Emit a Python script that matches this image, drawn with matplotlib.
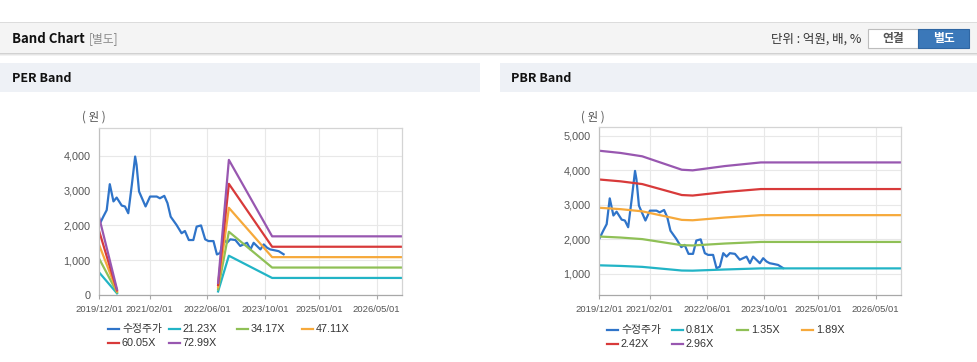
import numpy as np
import pandas as pd
import matplotlib
matplotlib.use('Agg')
import matplotlib.pyplot as plt
from matplotlib.patches import Rectangle
from matplotlib.lines import Line2D
from matplotlib.ticker import FuncFormatter

plt.rcParams['font.family'] = ['Liberation Sans', 'Noto Sans CJK KR']
plt.rcParams['axes.unicode_minus'] = False

W, H = 978, 362

# ---------------- data ----------------
price_dates = ['2019-12-01', '2019-12-10', '2020-01-06', '2020-02-04', '2020-03-01', '2020-04-01',
               '2020-04-28', '2020-06-10', '2020-07-07', '2020-08-04', '2020-09-03', '2020-10-01',
               '2020-10-13', '2020-11-03', '2020-12-28', '2021-02-04', '2021-04-01', '2021-04-28',
               '2021-06-04', '2021-07-01', '2021-07-28', '2021-09-15', '2021-10-28', '2021-11-25',
               '2021-12-28', '2022-02-04', '2022-03-04', '2022-04-10', '2022-05-15', '2022-06-12',
               '2022-07-24', '2022-08-22', '2022-09-19', '2022-10-18', '2022-11-15', '2022-12-13',
               '2023-01-25', '2023-03-07', '2023-04-04', '2023-05-03', '2023-06-01', '2023-06-28',
               '2023-07-25', '2023-08-24', '2023-09-21', '2023-10-19', '2023-11-15', '2023-12-15',
               '2024-01-25', '2024-03-07']
price_vals = [2000, 2060, 2250, 2440, 3185, 2690,
              2800, 2570, 2545, 2350, 3165, 3980,
              3740, 2975, 2545, 2830, 2830, 2780,
              2850, 2640, 2250, 2015, 1775, 1840,
              1580, 1580, 1965, 2000, 1600, 1550,
              1550, 1165, 1210, 1600, 1500, 1600,
              1580, 1410, 1455, 1500, 1310, 1500,
              1410, 1310, 1455, 1360, 1310, 1290,
              1260, 1170]

# PER band (NaN = no band, line is broken)
per_dates = ['2019-12-01', '2020-05-01', '2021-06-01', '2022-09-01', '2022-12-01', '2023-12-01', '2026-12-01']
per_21 = [654, 47, np.nan, 102, 1129, 490, 490]
per_34 = [1052, 75, np.nan, 164, 1818, 789, 789]
per_47 = [1451, 104, np.nan, 226, 2506, 1088, 1088]
per_60 = [1850, 132, np.nan, 288, 3195, 1387, 1387]
per_73 = [2248, 161, np.nan, 350, 3883, 1686, 1686]
per_labels = ['21.23X', '34.17X', '47.11X', '60.05X', '72.99X']

# PBR band
pbr_dates = ['2019-12-01', '2020-06-01', '2020-12-01', '2021-11-01', '2022-02-01', '2022-11-01', '2023-09-01', '2026-12-01']
pbr_081 = [1249, 1231, 1204, 1098, 1094, 1128, 1160, 1160]
pbr_135 = [2082, 2052, 2007, 1831, 1823, 1879, 1925, 1925]
pbr_189 = [2914, 2873, 2810, 2563, 2552, 2631, 2700, 2700]
pbr_242 = [3732, 3678, 3599, 3282, 3267, 3369, 3455, 3455]
pbr_296 = [4564, 4499, 4402, 4014, 3996, 4120, 4225, 4225]
pbr_labels = ['0.81X', '1.35X', '1.89X', '2.42X', '2.96X']

x_ticks = ['2019/12/01', '2021/02/01', '2022/06/01', '2023/10/01', '2025/01/01', '2026/05/01']

price_color = '#2f74c9'
band_colors = ['#22b4c6', '#8fc056', '#f6a93b', '#d83a3a', '#9857b0']


def px_rect(x0, y0, x1, y1):
    return [x0 / W, 1 - y1 / H, (x1 - x0) / W, (y1 - y0) / H]


def fx(x):
    return x / W


def fy(y):
    return 1 - y / H


def setup_axes(ax, ylim, yticks):
    ax.set_xlim(pd.Timestamp('2019-12-01'), pd.Timestamp('2026-12-01'))
    ax.set_ylim(*ylim)
    ax.set_yticks(yticks)
    ax.yaxis.set_major_formatter(FuncFormatter(lambda v, p: f'{v:,.0f}'))
    ax.set_xticks([pd.Timestamp(d.replace('/', '-')) for d in x_ticks])
    ax.set_xticklabels(x_ticks)
    ax.grid(color='#e8e8e8', lw=0.8)
    ax.set_axisbelow(True)
    for s in ax.spines.values():
        s.set_color('#d4d4d4')
        s.set_linewidth(0.9)
    ax.spines['bottom'].set_color('#a8a8a8')
    ax.spines['left'].set_color('#c0c0c0')
    ax.tick_params(axis='x', length=3, color='#a8a8a8', labelsize=6.8, labelcolor='#555555', pad=4)
    ax.tick_params(axis='y', length=0, labelsize=7.8, labelcolor='#555555', pad=6)


def draw_legend(fig, items, colors, positions):
    for name, c, (x, y) in zip(items, colors, positions):
        fig.add_artist(Line2D([fx(x), fx(x + 11)], [fy(y), fy(y)], color=c, lw=1.6,
                              transform=fig.transFigure))
        fig.text(fx(x + 14), fy(y), name, fontsize=7.8, color='#333333', va='center', ha='left')


fig = plt.figure(figsize=(W / 100, H / 100), dpi=100)
fig.patch.set_facecolor('white')

# ---------------- header ----------------
fig.add_artist(Rectangle((fx(0), fy(23.5)), 1, 1.5 / H, transform=fig.transFigure, color='#dcdcdc', lw=0))
fig.add_artist(Rectangle((fx(0), fy(53)), 1, 29.5 / H, transform=fig.transFigure, color='#f4f4f4', lw=0))
for i, a in enumerate([0.18, 0.10, 0.05]):
    fig.add_artist(Rectangle((fx(0), fy(54 + i)), 1, 1 / H, transform=fig.transFigure,
                             color='black', alpha=a, lw=0))
fig.text(fx(12), fy(39), 'Band Chart', fontsize=9.5, fontweight='bold', color='#111111',
         va='center', family=['Noto Sans CJK KR'])
fig.text(fx(89), fy(39), '[별도]', fontsize=8.5, color='#8a8a8a', va='center', family=['Noto Sans CJK KR'])
fig.text(fx(861), fy(39), '단위 : 억원, 배, %', fontsize=9, color='#333333', va='center', ha='right',
         family=['Noto Sans CJK KR'])
fig.add_artist(Rectangle((fx(868), fy(48)), 50 / W, 19 / H, transform=fig.transFigure,
                         facecolor='white', edgecolor='#bdbdbd', lw=0.8))
fig.text(fx(893), fy(38.5), '연결', fontsize=8.5, fontweight='bold', color='#555555', va='center',
         ha='center', family=['Noto Sans CJK KR'])
fig.add_artist(Rectangle((fx(918), fy(48)), 51 / W, 19 / H, transform=fig.transFigure,
                         facecolor='#3b78b9', edgecolor='#2f66a3', lw=0.8))
fig.text(fx(943.5), fy(38.5), '별도', fontsize=8.5, fontweight='bold', color='white', va='center',
         ha='center', family=['Noto Sans CJK KR'])

# panel title bars
fig.add_artist(Rectangle((fx(0), fy(92)), 480 / W, 29 / H, transform=fig.transFigure, color='#eef1f6', lw=0))
fig.add_artist(Rectangle((fx(500), fy(92)), 478 / W, 29 / H, transform=fig.transFigure, color='#eef1f6', lw=0))
fig.text(fx(12), fy(78), 'PER Band', fontsize=9, fontweight='bold', color='#111111', va='center',
         family=['Noto Sans CJK KR'])
fig.text(fx(511), fy(78), 'PBR Band', fontsize=9, fontweight='bold', color='#111111', va='center',
         family=['Noto Sans CJK KR'])

# ---------------- PER chart ----------------
pdates = pd.to_datetime(price_dates)
ax1 = fig.add_axes(px_rect(99, 128, 402, 295))
setup_axes(ax1, (0, 4800), [0, 1000, 2000, 3000, 4000])
ax1.plot(pdates, price_vals, color=price_color, lw=1.6)
d_per = pd.to_datetime(per_dates)
for vals, c in zip([per_21, per_34, per_47, per_60, per_73], band_colors):
    ax1.plot(d_per, vals, color=c, lw=1.6)
fig.text(fx(82), fy(117), '( 원 )', fontsize=8.3, color='#555555', va='center', family=['Noto Sans CJK KR'])

# ---------------- PBR chart ----------------
ax2 = fig.add_axes(px_rect(599, 127, 901, 295))
setup_axes(ax2, (390, 5250), [1000, 2000, 3000, 4000, 5000])
ax2.plot(pdates, price_vals, color=price_color, lw=1.6)
d_pbr = pd.to_datetime(pbr_dates)
for vals, c in zip([pbr_081, pbr_135, pbr_189, pbr_242, pbr_296], band_colors):
    ax2.plot(d_pbr, vals, color=c, lw=1.6)
fig.text(fx(581), fy(117), '( 원 )', fontsize=8.3, color='#555555', va='center', family=['Noto Sans CJK KR'])

# ---------------- legends ----------------
all_colors = [price_color] + band_colors
draw_legend(fig, ['수정주가'] + per_labels, all_colors,
            [(108, 329), (169, 329), (237, 329), (302, 329), (108, 343), (169, 343)])
draw_legend(fig, ['수정주가'] + pbr_labels, all_colors,
            [(607, 330), (672, 330), (737, 330), (802, 330), (607, 344), (672, 344)])

fig.savefig('out.png', dpi=100)
